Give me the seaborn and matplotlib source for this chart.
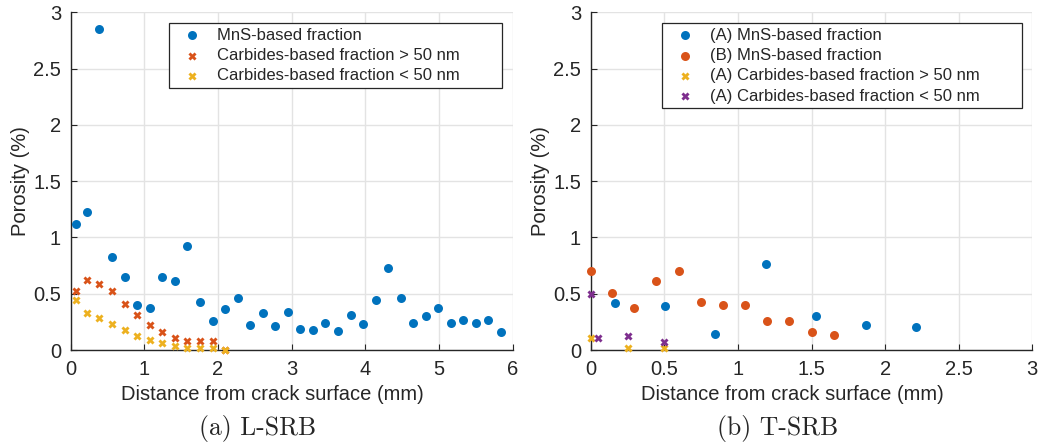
#!/usr/bin/env python3
"""Porosity vs distance from crack surface, L-SRB and T-SRB panels."""

import matplotlib

matplotlib.use("Agg")
import matplotlib.pyplot as plt
from matplotlib.ticker import FuncFormatter, MultipleLocator
import seaborn as sns

# ---- data ----
# (a) L-SRB
L_MNS_X = [0.07, 0.22, 0.39, 0.56, 0.74, 0.90, 1.07, 1.24, 1.41, 1.58, 1.76,
           1.93, 2.10, 2.27, 2.44, 2.61, 2.78, 2.95, 3.12, 3.29, 3.46, 3.63,
           3.80, 3.97, 4.14, 4.31, 4.48, 4.65, 4.82, 4.99, 5.16, 5.33, 5.50,
           5.67, 5.84]
L_MNS_Y = [1.12, 1.23, 2.85, 0.83, 0.65, 0.40, 0.37, 0.65, 0.61, 0.92, 0.43,
           0.26, 0.36, 0.46, 0.22, 0.33, 0.21, 0.34, 0.19, 0.18, 0.24, 0.17,
           0.31, 0.23, 0.44, 0.73, 0.46, 0.24, 0.30, 0.37, 0.24, 0.27, 0.24,
           0.27, 0.16]
L_CARB_X = [0.07, 0.22, 0.39, 0.56, 0.74, 0.90, 1.07, 1.24, 1.41, 1.58, 1.76,
            1.93, 2.10]
L_CARB_BIG_Y = [0.52, 0.62, 0.59, 0.52, 0.41, 0.31, 0.22, 0.16, 0.11, 0.08,
                0.08, 0.08, 0.0]
L_CARB_SMALL_Y = [0.44, 0.33, 0.28, 0.23, 0.18, 0.12, 0.086, 0.06, 0.035,
                  0.02, 0.02, 0.02, 0.0]

# (b) T-SRB
T_MNS_A_X = [0.165, 0.507, 0.847, 1.19, 1.53, 1.87, 2.21]
T_MNS_A_Y = [0.42, 0.39, 0.14, 0.76, 0.30, 0.225, 0.205]
T_MNS_B_X = [0.0, 0.147, 0.296, 0.446, 0.598, 0.75, 0.90, 1.05, 1.20, 1.35,
             1.50, 1.65]
T_MNS_B_Y = [0.70, 0.51, 0.37, 0.61, 0.70, 0.43, 0.40, 0.40, 0.26, 0.26,
             0.16, 0.13]
T_CARB_BIG_X = [0.0, 0.25, 0.50]
T_CARB_BIG_Y = [0.11, 0.02, 0.015]
T_CARB_SMALL_X = [0.0, 0.048, 0.25, 0.50]
T_CARB_SMALL_Y = [0.50, 0.11, 0.12, 0.07]

BLUE = "#0072BD"
ORANGE = "#D95319"
YELLOW = "#EDB120"
PURPLE = "#7E2F8E"
DARK = "#262626"

# MATLAB legends leave extra room after the longest label
PAD = " " * 8

PANELS = [
    {
        "caption": "(a) L-SRB",
        "caption_x": 257.5,
        "xmax": 6,
        "xstep": 1,
        "series": [
            (L_MNS_X, L_MNS_Y, BLUE, "o", "MnS-based fraction"),
            (L_CARB_X, L_CARB_BIG_Y, ORANGE, "X", "Carbides-based fraction > 50 nm" + PAD),
            (L_CARB_X, L_CARB_SMALL_Y, YELLOW, "X", "Carbides-based fraction < 50 nm"),
        ],
    },
    {
        "caption": "(b) T-SRB",
        "caption_x": 777.5,
        "xmax": 3,
        "xstep": 0.5,
        "series": [
            (T_MNS_A_X, T_MNS_A_Y, BLUE, "o", "(A) MnS-based fraction"),
            (T_MNS_B_X, T_MNS_B_Y, ORANGE, "o", "(B) MnS-based fraction"),
            (T_CARB_BIG_X, T_CARB_BIG_Y, YELLOW, "X", "(A) Carbides-based fraction > 50 nm" + PAD),
            (T_CARB_SMALL_X, T_CARB_SMALL_Y, PURPLE, "X", "(A) Carbides-based fraction < 50 nm"),
        ],
    },
]


def main() -> None:
    sns.set_theme(style="whitegrid")
    plt.rcParams["font.family"] = ["Liberation Sans", "DejaVu Sans"]

    fig = plt.figure(figsize=(10.4, 4.47), dpi=100)
    fig.patch.set_facecolor("white")
    axes_rects = [
        [0.068, 0.217, 0.4248, 0.7555],
        [0.568, 0.217, 0.4246, 0.7555],
    ]
    fmt = FuncFormatter(lambda v, _: f"{v:g}")

    for rect, panel in zip(axes_rects, PANELS):
        ax = fig.add_axes(rect)
        ax.set_facecolor("white")
        for xs, ys, color, marker, label in panel["series"]:
            size = 42 if marker == "o" else 34
            sns.scatterplot(x=xs, y=ys, color=color, marker=marker, s=size,
                            linewidth=0, label=label, ax=ax, zorder=3,
                            clip_on=False)

        ax.set_xlim(0, panel["xmax"])
        ax.set_ylim(0, 3)
        ax.xaxis.set_major_locator(MultipleLocator(panel["xstep"]))
        ax.yaxis.set_major_locator(MultipleLocator(0.5))
        ax.xaxis.set_major_formatter(fmt)
        ax.yaxis.set_major_formatter(fmt)
        ax.grid(True, color="#e3e3e3", linewidth=1.0)
        ax.set_axisbelow(True)

        for side in ("top", "right"):
            ax.spines[side].set_visible(False)
        for side in ("left", "bottom"):
            ax.spines[side].set_visible(True)
            ax.spines[side].set_color(DARK)
            ax.spines[side].set_linewidth(1.0)

        ax.tick_params(axis="both", which="major", direction="in", length=4,
                       width=0.8, color=DARK, labelcolor=DARK, labelsize=14.5,
                       left=True, bottom=True, pad=7)

        ax.set_xlabel("Distance from crack surface (mm)", fontsize=14.5,
                      color=DARK)
        ax.set_ylabel("Porosity (%)", fontsize=14.5, color=DARK)
        ax.xaxis.set_label_coords(0.456, -0.104)
        ax.yaxis.set_label_coords(-0.092, 0.5)

        leg = ax.legend(loc="upper right", bbox_to_anchor=(0.976, 0.968),
                        borderaxespad=0, fontsize=12, frameon=True,
                        fancybox=False, framealpha=1, edgecolor=DARK,
                        borderpad=0.28, handlelength=2.2, handletextpad=0.4,
                        labelspacing=0.32, markerscale=1.0)
        leg.get_frame().set_linewidth(0.9)
        for txt in leg.get_texts():
            txt.set_color(DARK)

        fig.text(panel["caption_x"], 447 - 429, panel["caption"],
                 transform=None, fontsize=18.5, family="cmr10",
                 ha="center", va="center")

    fig.savefig("out.png", dpi=100, facecolor="white")


if __name__ == "__main__":
    main()
